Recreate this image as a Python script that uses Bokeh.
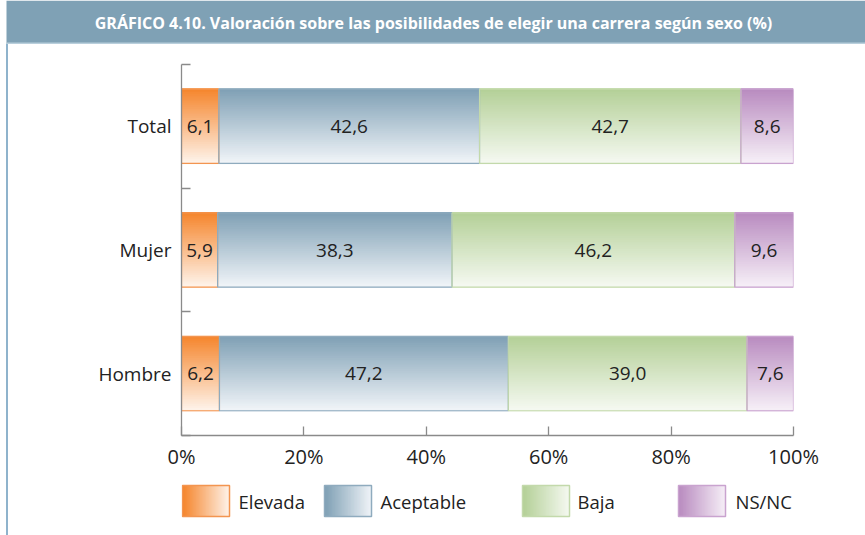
import numpy as np
from bokeh.plotting import figure
from bokeh.layouts import column, row
from bokeh.models import ColumnDataSource, FixedTicker, PrintfTickFormatter, Range1d, Div
from bokeh.core.properties import value
from bokeh.embed import file_html
from bokeh.resources import INLINE

# ---------------- data ----------------
title_text = "GRÁFICO 4.10. Valoración sobre las posibilidades de elegir una carrera según sexo (%)"
categories = ["Hombre", "Mujer", "Total"]
series_names = ["Elevada", "Aceptable", "Baja", "NS/NC"]
elevada = [6.2, 5.9, 6.1]
aceptable = [47.2, 38.3, 42.6]
baja = [39.0, 46.2, 42.7]
nsnc = [7.6, 9.6, 8.6]
x_ticks = [0, 20, 40, 60, 80, 100]

# ---------------- styles ----------------
top_colors = ["#f5842a", "#7e9fb4", "#b3cf96", "#b88abf"]
bottom_colors = ["#fef3ea", "#f0f4f8", "#f5f9f1", "#f6eff7"]
edge_colors = ["#f39550", "#8fabbe", "#c3d9ab", "#c9a3cf"]
header_color = "#7fa1b5"
frame_line = "#8fb3cc"
FONT = "Open Sans"
TXT = "#222222"

def hex2rgb(h):
    h = h.lstrip("#")
    return np.array([int(h[i:i + 2], 16) for i in (0, 2, 4)], dtype=float)

def mix(c1, c2, t):
    a, b = hex2rgb(c1), hex2rgb(c2)
    c = a + (b - a) * t
    return "#%02x%02x%02x" % tuple(int(round(v)) for v in c)

def bare(fig):
    fig.axis.visible = False
    fig.xgrid.visible = False
    fig.ygrid.visible = False
    fig.outline_line_color = None
    return fig

series = [elevada, aceptable, baja, nsnc]
TOTAL_W = 865
HEAD_H = 44
MAIN_H = 436
LEG_H = 535 - HEAD_H - MAIN_H
LINE_X, LINE_W = 6, 2
OFF = LINE_X + LINE_W
INNER_W = TOTAL_W - OFF
FRAME_L, FRAME_W = 181, 612          # page x of plot frame, frame width
BORDER_L = FRAME_L - OFF
BORDER_R = INNER_W - BORDER_L - FRAME_W

# ---------------- header ----------------
head = bare(figure(width=TOTAL_W, height=HEAD_H, frame_width=TOTAL_W, frame_height=HEAD_H,
                   x_range=Range1d(0, TOTAL_W), y_range=Range1d(HEAD_H, 0),
                   output_backend="svg", toolbar_location=None, min_border=0))
head.quad(left=[LINE_X], right=[TOTAL_W], top=[0], bottom=[HEAD_H], fill_color=header_color,
          line_color=None)
head.quad(left=[LINE_X], right=[TOTAL_W], top=[HEAD_H - 2], bottom=[HEAD_H], fill_color="#b9cfdc",
          line_color=None)
head.text(x=[433], y=[22], text=[title_text], text_align="center", text_baseline="middle",
          text_font=value(FONT), text_font_style="bold", text_font_size="16px",
          text_color="white")

# ---------------- left frame line ----------------
edge = Div(text="", width=LINE_W, height=MAIN_H + LEG_H, margin=(0, 0, 0, LINE_X),
           styles={"background-color": frame_line})

# ---------------- main chart ----------------
p = figure(width=INNER_W, height=MAIN_H, output_backend="svg", toolbar_location=None,
           x_range=Range1d(0, 100), y_range=Range1d(-0.5, len(categories) - 0.5),
           min_border_left=BORDER_L, min_border_right=BORDER_R, min_border_top=20,
           min_border_bottom=45, frame_width=FRAME_W, frame_height=371)
p.outline_line_color = None
p.xgrid.visible = False
p.ygrid.visible = False

N = 40
bar_h = 0.6
gs = dict(y=[], left=[], right=[], color=[])
outline = dict(y=[], left=[], right=[], color=[])
lab = dict(x=[], y=[], text=[])
cum = np.zeros(len(categories))
for si, vals in enumerate(series):
    vals = np.array(vals, dtype=float)
    lefts = cum.copy()
    rights = cum + vals
    for ci in range(len(categories)):
        for k in range(N):
            t = (k + 0.5) / N
            gs["y"].append(ci + bar_h / 2 - (k + 0.5) * bar_h / N)
            gs["left"].append(lefts[ci])
            gs["right"].append(rights[ci])
            gs["color"].append(mix(top_colors[si], bottom_colors[si], t))
        outline["y"].append(ci)
        outline["left"].append(lefts[ci])
        outline["right"].append(rights[ci])
        outline["color"].append(edge_colors[si])
        lab["x"].append((lefts[ci] + rights[ci]) / 2)
        lab["y"].append(ci)
        lab["text"].append(("%.1f" % vals[ci]).replace(".", ","))
    cum = rights

p.hbar(y="y", left="left", right="right", height=bar_h / N * 2.0, fill_color="color",
       line_color=None, source=ColumnDataSource(gs))
p.hbar(y="y", left="left", right="right", height=bar_h, fill_color=None,
       line_color="color", line_width=1.2, source=ColumnDataSource(outline))
p.text(x="x", y="y", text="text", text_align="center", text_baseline="middle",
       text_font=value(FONT), text_font_size="19px", text_color=TXT,
       source=ColumnDataSource(lab))

p.xaxis.ticker = FixedTicker(ticks=x_ticks)
p.xaxis.formatter = PrintfTickFormatter(format="%d%%")
p.xaxis.major_tick_in = 9
p.xaxis.major_tick_out = 0
p.xaxis.minor_tick_line_color = None
p.xaxis.axis_line_color = "#8a8a8a"
p.xaxis.major_tick_line_color = "#8a8a8a"
p.xaxis.axis_line_width = 1.3
p.xaxis.major_tick_line_width = 1.3
p.xaxis.major_label_text_font = FONT
p.xaxis.major_label_text_font_size = "20px"
p.xaxis.major_label_text_color = TXT
p.xaxis.major_label_standoff = 7

p.yaxis.ticker = FixedTicker(ticks=list(range(len(categories))),
                             minor_ticks=[i - 0.5 for i in range(len(categories) + 1)])
p.yaxis.major_label_overrides = {i: c for i, c in enumerate(categories)}
p.yaxis.major_tick_in = 0
p.yaxis.major_tick_out = 0
p.yaxis.minor_tick_in = 9
p.yaxis.minor_tick_out = 0
p.yaxis.axis_line_color = "#8a8a8a"
p.yaxis.minor_tick_line_color = "#8a8a8a"
p.yaxis.axis_line_width = 1.3
p.yaxis.minor_tick_line_width = 1.3
p.yaxis.major_label_text_font = FONT
p.yaxis.major_label_text_font_size = "19px"
p.yaxis.major_label_text_color = TXT
p.yaxis.major_label_standoff = 10

# ---------------- legend (frame aligned with the chart frame) ----------------
leg = bare(figure(width=INNER_W, height=LEG_H, frame_width=FRAME_W, frame_height=LEG_H,
                  min_border_left=BORDER_L, min_border_right=BORDER_R,
                  min_border_top=0, min_border_bottom=0,
                  x_range=Range1d(FRAME_L, FRAME_L + FRAME_W), y_range=Range1d(LEG_H, 0),
                  output_backend="svg", toolbar_location=None))
leg_x = [182, 324, 522, 678]
leg_label_x = [238, 380, 577, 735]
sw_w, sw_top, sw_bot = 47, 5, 36
M = 32
sw = dict(left=[], right=[], color=[])
for si in range(len(series_names)):
    x0 = leg_x[si]
    for k in range(M):
        t = (k + 0.5) / M
        sw["left"].append(x0 + k * sw_w / M)
        sw["right"].append(x0 + (k + 2) * sw_w / M if k < M - 1 else x0 + sw_w)
        sw["color"].append(mix(top_colors[si], bottom_colors[si], t))
leg.quad(left="left", right="right", top=sw_top, bottom=sw_bot, fill_color="color",
         line_color=None, source=ColumnDataSource(sw))
leg.quad(left=leg_x, right=[x + sw_w for x in leg_x], top=sw_top, bottom=sw_bot,
         fill_color=None, line_color=edge_colors, line_width=1.5)
leg.text(x=leg_label_x, y=[(sw_top + sw_bot) / 2] * len(series_names), text=series_names,
         text_align="left", text_baseline="middle", text_font=value(FONT),
         text_font_size="18.5px", text_color=TXT)

layout = column(head, row(edge, column(p, leg, spacing=0), spacing=0), spacing=0)
open("out.html", "w").write(file_html(layout, INLINE))
